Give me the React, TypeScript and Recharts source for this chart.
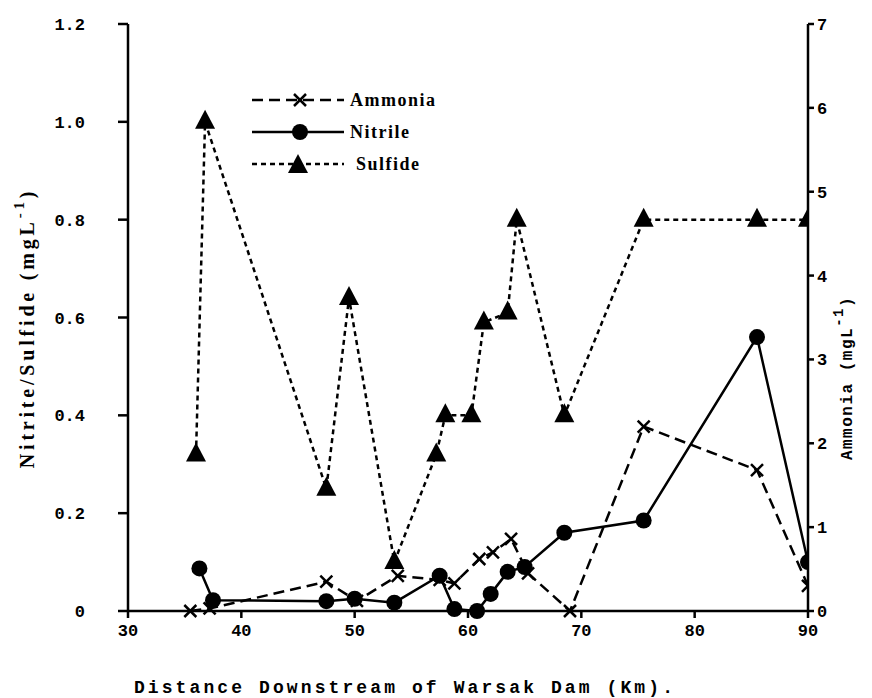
import React from "react";
import { LineChart, Line, XAxis, YAxis, Legend } from "recharts";

// distance downstream (km) and concentrations
const ammoniaKm = [35.5, 37.2, 47.5, 50.2, 53.8, 57.5, 58.8, 61, 62.2, 63.8, 65.3, 69, 75.5, 85.5, 90];
const ammoniaVal = [0, 0.03, 0.35, 0.12, 0.42, 0.37, 0.33, 0.62, 0.7, 0.86, 0.45, 0, 2.2, 1.68, 0.3];

const nitriteKm = [36.3, 37.5, 47.5, 50, 53.5, 57.5, 58.8, 60.8, 62, 63.5, 65, 68.5, 75.5, 85.5, 90];
const nitriteVal = [0.087, 0.022, 0.02, 0.025, 0.017, 0.072, 0.004, 0, 0.035, 0.08, 0.09, 0.16, 0.185, 0.56, 0.1];

const sulfideKm = [36, 36.8, 47.5, 49.5, 53.5, 57.2, 58, 60.3, 61.4, 63.5, 64.3, 68.5, 75.5, 85.5, 90];
const sulfideVal = [0.32, 1.0, 0.25, 0.64, 0.1, 0.32, 0.4, 0.4, 0.59, 0.61, 0.8, 0.4, 0.8, 0.8, 0.8];

const xTicks = [30, 40, 50, 60, 70, 80, 90];
const leftTicks = [0, 0.2, 0.4, 0.6, 0.8, 1.0, 1.2];
const rightTicks = [0, 1, 2, 3, 4, 5, 6, 7];

const toRows = (km: number[], vals: number[]) => km.map((k, i) => ({ km: k, v: vals[i] }));
const ammonia = toRows(ammoniaKm, ammoniaVal);
const nitrite = toRows(nitriteKm, nitriteVal);
const sulfide = toRows(sulfideKm, sulfideVal);

const INK = "#000";
const MONO = "'Liberation Mono', 'DejaVu Sans Mono', monospace";
const SERIF = "'Liberation Serif', 'DejaVu Serif', serif";

const tickStyle = { fill: INK, fontFamily: MONO, fontWeight: 700, fontSize: 17 };

const CrossDot = (props: any) => {
  const { cx, cy, index } = props;
  if (cx == null || cy == null) return <g key={`a-${index}`} />;
  const s = 6;
  return (
    <g key={`a-${index}`} stroke={INK} strokeWidth={2.5}>
      <line x1={cx - s} y1={cy - s} x2={cx + s} y2={cy + s} />
      <line x1={cx - s} y1={cy + s} x2={cx + s} y2={cy - s} />
    </g>
  );
};

const CircleDot = (props: any) => {
  const { cx, cy, index } = props;
  if (cx == null || cy == null) return <g key={`n-${index}`} />;
  return <circle key={`n-${index}`} cx={cx} cy={cy} r={8} fill={INK} />;
};

const TriangleDot = (props: any) => {
  const { cx, cy, index } = props;
  if (cx == null || cy == null) return <g key={`s-${index}`} />;
  return (
    <path
      key={`s-${index}`}
      d={`M${cx},${cy - 12} L${cx + 10},${cy + 7} L${cx - 10},${cy + 7} Z`}
      fill={INK}
    />
  );
};

const legendItems = [
  { name: "Ammonia", dash: "11 6", marker: "cross" },
  { name: "Nitrile", dash: "", marker: "circle" },
  { name: "Sulfide", dash: "5 4", marker: "triangle" },
];

const renderLegend = () => (
  <div>
    {legendItems.map((it) => (
      <div key={it.name} style={{ display: "flex", alignItems: "center", height: 32 }}>
        <svg width={96} height={26}>
          <line x1={2} y1={13} x2={94} y2={13} stroke={INK} strokeWidth={2.5} strokeDasharray={it.dash} />
          {it.marker === "cross" && CrossDot({ cx: 50, cy: 13, index: 0 })}
          {it.marker === "circle" && CircleDot({ cx: 50, cy: 13, index: 0 })}
          {it.marker === "triangle" && TriangleDot({ cx: 48, cy: 15, index: 0 })}
        </svg>
        <span
          style={{
            fontFamily: SERIF,
            fontWeight: 700,
            fontSize: 18,
            letterSpacing: 1.5,
            marginLeft: it.marker === "triangle" ? 10 : 4,
            color: INK,
          }}
        >
          {it.name}
        </span>
      </div>
    ))}
  </div>
);

const LeftTitle = (props: any) => {
  const vb = props.viewBox || { x: 0, y: 0, height: 0 };
  const x = vb.x + 14;
  const y = 328;
  return (
    <text
      x={x}
      y={y}
      transform={`rotate(-90 ${x} ${y})`}
      textAnchor="middle"
      fill={INK}
      style={{ fontFamily: SERIF, fontWeight: 700, fontSize: 20, letterSpacing: 3.8 }}
    >
      Nitrite/Sulfide (mgL
      <tspan dy={-10} fontSize={15}>-1</tspan>
      <tspan dy={10}>)</tspan>
    </text>
  );
};

const RightTitle = (props: any) => {
  const vb = props.viewBox || { x: 0, y: 0, width: 0, height: 0 };
  const x = vb.x + 44;
  const y = 378;
  return (
    <text
      x={x}
      y={y}
      transform={`rotate(-90 ${x} ${y})`}
      textAnchor="middle"
      fill={INK}
      style={{ fontFamily: MONO, fontWeight: 700, fontSize: 16, letterSpacing: 1.5 }}
    >
      Ammonia (mgL
      <tspan dy={-9} fontSize={14}>-1</tspan>
      <tspan dy={9}>)</tspan>
    </text>
  );
};

const BottomTitle = (props: any) => {
  const vb = props.viewBox || { x: 0, y: 0, width: 0, height: 0 };
  return (
    <text
      x={405}
      y={vb.y + 82}
      textAnchor="middle"
      fill={INK}
      style={{ fontFamily: MONO, fontWeight: 700, fontSize: 18, letterSpacing: 3.1 }}
    >
      Distance Downstream of Warsak Dam (Km).
    </text>
  );
};

const App = () => (
  <div style={{ position: "absolute", left: 0, top: 0, width: 872, height: 698, background: "#fff" }}>
    <LineChart width={872} height={698} margin={{ top: 24, right: 10, bottom: 57, left: 20 }}>
      <XAxis
        type="number"
        dataKey="km"
        domain={[30, 90]}
        ticks={xTicks}
        allowDataOverflow
        height={30}
        stroke={INK}
        strokeWidth={2.5}
        tickSize={7}
        tickMargin={6}
        tick={tickStyle}
        label={{ content: BottomTitle }}
      />
      <YAxis
        yAxisId="left"
        domain={[0, 1.2]}
        ticks={leftTicks}
        width={108}
        stroke={INK}
        strokeWidth={2.5}
        tickSize={10}
        tickMargin={33}
        tick={tickStyle}
        tickFormatter={(v: number) => (v === 0 ? "0" : v.toFixed(1))}
        label={{ content: LeftTitle }}
      />
      <YAxis
        yAxisId="right"
        orientation="right"
        domain={[0, 7]}
        ticks={rightTicks}
        width={54}
        stroke={INK}
        strokeWidth={2.5}
        tickSize={6}
        tickMargin={3}
        tick={tickStyle}
        label={{ content: RightTitle }}
      />
      <Legend
        layout="vertical"
        align="center"
        verticalAlign="middle"
        content={renderLegend}
        wrapperStyle={{ left: 250, top: 84, width: 240 }}
      />
      <Line
        yAxisId="right"
        data={ammonia}
        dataKey="v"
        type="linear"
        stroke={INK}
        strokeWidth={2.5}
        strokeDasharray="11 6"
        dot={CrossDot}
        activeDot={false}
        isAnimationActive={false}
      />
      <Line
        yAxisId="left"
        data={nitrite}
        dataKey="v"
        type="linear"
        stroke={INK}
        strokeWidth={2.5}
        dot={CircleDot}
        activeDot={false}
        isAnimationActive={false}
      />
      <Line
        yAxisId="left"
        data={sulfide}
        dataKey="v"
        type="linear"
        stroke={INK}
        strokeWidth={2.5}
        strokeDasharray="5 4"
        dot={TriangleDot}
        activeDot={false}
        isAnimationActive={false}
      />
    </LineChart>
  </div>
);

export default App;
